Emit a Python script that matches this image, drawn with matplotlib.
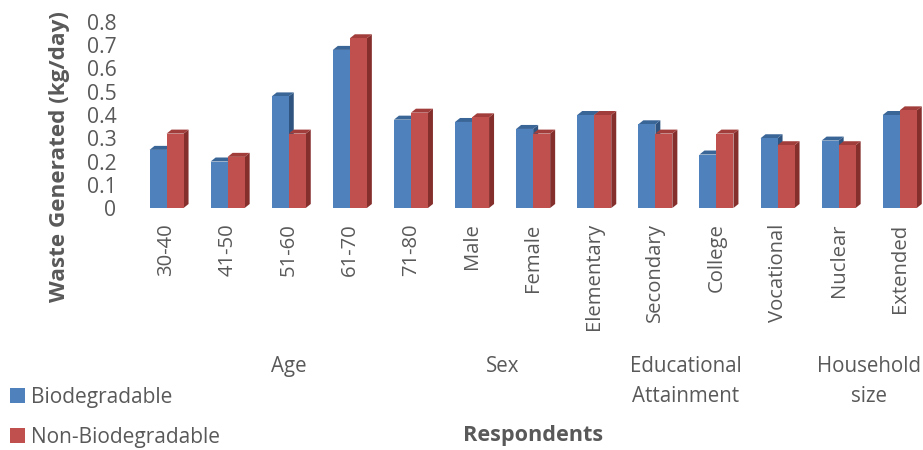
import matplotlib
matplotlib.use("Agg")
import matplotlib.pyplot as plt
from matplotlib.patches import Polygon, Patch
from matplotlib.transforms import blended_transform_factory

categories = ["30-40", "41-50", "51-60", "61-70", "71-80", "Male", "Female",
              "Elementary", "Secondary", "College", "Vocational", "Nuclear", "Extended"]
biodegradable = [0.25, 0.20, 0.48, 0.68, 0.38, 0.37, 0.34, 0.40, 0.36, 0.23, 0.30, 0.29, 0.40]
non_biodegradable = [0.32, 0.22, 0.32, 0.73, 0.41, 0.39, 0.32, 0.40, 0.32, 0.32, 0.27, 0.27, 0.42]
groups = ["Age", "Sex", "Educational\nAttainment", "Household\nsize"]
group_spans = [(0, 4), (5, 6), (7, 10), (11, 12)]
yticks = [0, 0.1, 0.2, 0.3, 0.4, 0.5, 0.6, 0.7, 0.8]

FONT = "Open Sans"
GREY = "#595959"
W, H = 923, 450
fig = plt.figure(figsize=(W / 100, H / 100), dpi=100)

px_per_cat = 61.1
left_px = 136
x_right = -0.5 + (W - left_px) / px_per_cat
ax = fig.add_axes([left_px / W, (H - 208) / H, (W - left_px) / W, (208 - 22) / H])
ax.set_xlim(-0.5, x_right)
ax.set_ylim(0, 0.8)
for s in ax.spines.values():
    s.set_visible(False)

bw = 17 / px_per_cat
dx = 5 / px_per_cat
dy = 4 / (186 / 0.8)

blue_front, blue_top, blue_side = "#4F81BD", "#3A6597", "#2F5480"
red_front, red_top, red_side = "#C0504D", "#A13E3B", "#852F2D"

def draw(series, offset, front, top, side, z):
    for i, v in enumerate(series):
        x0 = i + offset
        x1 = x0 + bw
        ax.add_patch(Polygon([(x1, 0), (x1 + dx, dy), (x1 + dx, v + dy), (x1, v)],
                             closed=True, facecolor=side, edgecolor="none", zorder=z, clip_on=False))
        ax.add_patch(Polygon([(x0, v), (x0 + dx, v + dy), (x1 + dx, v + dy), (x1, v)],
                             closed=True, facecolor=top, edgecolor="none", zorder=z, clip_on=False))
        ax.bar(x0, v, width=bw, align="edge", color=front, zorder=z + 0.5, clip_on=False)

xs = list(range(len(categories)))
draw(biodegradable, -bw, blue_front, blue_top, blue_side, 2)
draw(non_biodegradable, 0, red_front, red_top, red_side, 3)

ax.set_yticks(yticks)
ax.set_yticklabels([("%g" % t) for t in yticks], fontsize=15.2, color=GREY, family=FONT)
ax.set_xticks(xs)
ax.set_xticklabels(categories, rotation=90, fontsize=14.6, color=GREY, family=FONT, va="top")
ax.tick_params(axis="y", length=0, pad=14)
ax.tick_params(axis="x", length=0, pad=11)

fig.text(60 / W, 1 - 157 / H, "Waste Generated (kg/day)", rotation=90, ha="center", va="center",
         fontsize=16.2, fontweight="bold", color=GREY, family=FONT)

tr = blended_transform_factory(ax.transData, fig.transFigure)
for g, (a, b) in zip(groups, group_spans):
    ax.text((a + b) / 2, 1 - 356 / H, g, transform=tr, ha="center", va="top",
            fontsize=14.8, color=GREY, family=FONT, linespacing=1.55)

fig.text(533 / W, 1 - 435 / H, "Respondents", ha="center", va="center",
         fontsize=15.6, fontweight="bold", color=GREY, family=FONT)

handles = [Patch(facecolor=blue_front, edgecolor="none", label="Biodegradable"),
           Patch(facecolor=red_front, edgecolor="none", label="Non-Biodegradable")]
leg = fig.legend(handles=handles, loc="upper left", bbox_to_anchor=(10 / W, 1 - 387 / H),
                 frameon=False, handlelength=0.7, handleheight=0.7, handletextpad=0.3,
                 labelspacing=0.9, prop={"family": FONT, "size": 15}, borderaxespad=0, borderpad=0)
for t in leg.get_texts():
    t.set_color(GREY)

fig.savefig("out.png", dpi=100)
